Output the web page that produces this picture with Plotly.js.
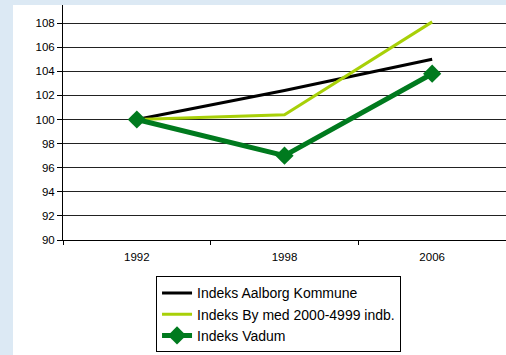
<!DOCTYPE html>
<html><head><meta charset="utf-8">
<script src="https://cdn.plot.ly/plotly-3.0.1.min.js"></script>
<style>
html,body{margin:0;padding:0;background:#dce9f4;width:506px;height:355px;overflow:hidden;}
#chart{position:absolute;left:13px;top:5px;width:493px;height:350px;background:#fff;}
</style></head><body>
<div id="chart"></div>
<script>
var years = ["1992", "1998", "2006"];
var aalborg = [100, 102.4, 105];
var byMed = [100, 100.4, 108.1];
var vadum = [100, 97, 103.8];
var yTicks = [90, 92, 94, 96, 98, 100, 102, 104, 106, 108];

var traces = [
  {x: years, y: aalborg, name: "Indeks Aalborg Kommune", mode: "lines",
   line: {color: "#000000", width: 3}},
  {x: years, y: byMed, name: "Indeks By med 2000-4999 indb.", mode: "lines",
   line: {color: "#a8d008", width: 3}},
  {x: years, y: vadum, name: "Indeks Vadum", mode: "lines+markers",
   line: {color: "#007a1e", width: 5},
   marker: {symbol: "diamond", size: 14, color: "#007a1e"}}
];

var layout = {
  width: 493, height: 350,
  margin: {l: 50, r: 0, t: 0, b: 115, autoexpand: false},
  paper_bgcolor: "#ffffff", plot_bgcolor: "#ffffff",
  font: {family: "Liberation Sans, Arial, sans-serif", size: 11.5, color: "#000"},
  showlegend: true,
  legend: {x: 0.21, y: -0.155, xanchor: "left", yanchor: "top",
    bgcolor: "#ffffff", bordercolor: "#000000", borderwidth: 1,
    font: {size: 14, color: "#000"}, tracegroupgap: 0},
  xaxis: {type: "category", range: [-0.5, 2.5], showgrid: false,
    showline: true, linecolor: "#000", linewidth: 1,
    ticks: "outside", ticklen: 4, tickcolor: "#000", tickson: "boundaries",
    ticklabelstandoff: 6,
    fixedrange: true, zeroline: false},
  yaxis: {range: [90, 109.5], tickvals: yTicks, ticktext: yTicks.map(String),
    showgrid: true, gridcolor: "#222", gridwidth: 1,
    showline: true, linecolor: "#000", linewidth: 1,
    ticks: "outside", ticklen: 5, tickcolor: "#000",
    zeroline: false, fixedrange: true}
};
Plotly.newPlot("chart", traces, layout, {displayModeBar: false, staticPlot: true});
</script>
</body></html>
